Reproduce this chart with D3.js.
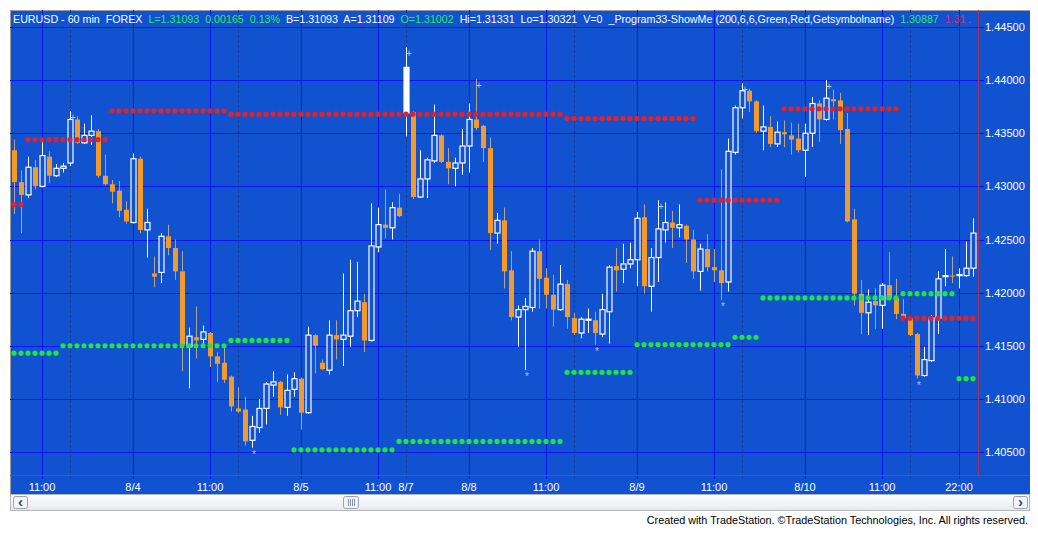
<!DOCTYPE html>
<html>
<head>
<meta charset="utf-8">
<script src="https://cdn.jsdelivr.net/npm/d3@7/dist/d3.min.js"></script>
<style>
body { margin: 0; background: #fff; }
svg { display: block; font-family: "Liberation Sans", Arial, sans-serif; }
</style>
</head>
<body>
<div id="chart"></div>
<script>
// hourly EURUSD bars
var opens = [1.4334,1.4304,1.4292,1.4318,1.4300,1.4328,1.4310,1.4317,1.4322,1.4363,
  1.4341,1.4348,1.4352,1.4310,1.4302,1.4296,1.4278,1.4266,1.4326,1.4259,
  1.4218,1.4219,1.4253,1.4242,1.4220,1.4149,1.4158,1.4156,1.4162,1.4140,
  1.4134,1.4121,1.4091,1.4090,1.4061,1.4073,1.4091,1.4113,1.4116,1.4092,
  1.4109,1.4119,1.4087,1.4160,1.4134,1.4127,1.4160,1.4156,1.4159,1.4183,
  1.4191,1.4155,1.4243,1.4264,1.4261,1.4280,1.4369,1.4370,1.4290,1.4307,
  1.4324,1.4348,1.4323,1.4317,1.4322,1.4338,1.4363,1.4357,1.4336,1.4256,
  1.4268,1.4221,1.4177,1.4184,1.4186,1.4239,1.4214,1.4198,1.4184,1.4208,
  1.4176,1.4162,1.4174,1.4174,1.4161,1.4182,1.4225,1.4222,1.4227,1.4231,
  1.4271,1.4206,1.4233,1.4259,1.4266,1.4261,1.4263,1.4250,1.4220,1.4241,
  1.4224,1.4221,1.4210,1.4332,1.4374,1.4390,1.4380,1.4352,1.4356,1.4340,
  1.4351,1.4348,1.4345,1.4334,1.4350,1.4378,1.4363,1.4382,1.4381,1.4354,
  1.4269,1.4199,1.4181,1.4192,1.4188,1.4207,1.4195,1.4180,1.4176,1.4161,
  1.4122,1.4136,1.4176,1.4215,1.4216,1.4216,1.4216,1.4223];
var highs = [1.4344,1.4315,1.4328,1.4325,1.4344,1.4333,1.4321,1.4322,1.4371,1.4366,
  1.4359,1.4367,1.4354,1.4330,1.4306,1.4305,1.4286,1.4331,1.4328,1.4279,
  1.4234,1.4256,1.4264,1.4250,1.4239,1.4167,1.4187,1.4169,1.4163,1.4144,
  1.4149,1.4122,1.4111,1.4102,1.4084,1.4100,1.4116,1.4126,1.4117,1.4123,
  1.4125,1.4120,1.4168,1.4161,1.4137,1.4174,1.4174,1.4218,1.4231,1.4229,
  1.4199,1.4284,1.4280,1.4297,1.4285,1.4293,1.4431,1.4371,1.4334,1.4327,
  1.4377,1.4349,1.4336,1.4327,1.4354,1.4378,1.4401,1.4358,1.4346,1.4275,
  1.4280,1.4239,1.4188,1.4195,1.4242,1.4250,1.4223,1.4217,1.4226,1.4212,
  1.4181,1.4177,1.4185,1.4182,1.4199,1.4226,1.4242,1.4246,1.4247,1.4276,
  1.4283,1.4242,1.4287,1.4285,1.4277,1.4283,1.4264,1.4259,1.4246,1.4255,
  1.4241,1.4316,1.4345,1.4376,1.4397,1.4392,1.4381,1.4376,1.4366,1.4361,
  1.4362,1.4360,1.4359,1.4359,1.4384,1.4381,1.4400,1.4391,1.4388,1.4369,
  1.4279,1.4212,1.4203,1.4204,1.4209,1.4238,1.4213,1.4194,1.4177,1.4162,
  1.4149,1.4179,1.4220,1.4241,1.4234,1.4223,1.4248,1.4270];
var lows = [1.4274,1.4256,1.4289,1.4297,1.4299,1.4303,1.4309,1.4313,1.4319,1.4340,
  1.4340,1.4339,1.4308,1.4301,1.4284,1.4271,1.4265,1.4265,1.4256,1.4233,
  1.4205,1.4209,1.4235,1.4212,1.4126,1.4110,1.4138,1.4148,1.4130,1.4116,
  1.4115,1.4088,1.4087,1.4056,1.4054,1.4068,1.4076,1.4102,1.4085,1.4084,
  1.4102,1.4071,1.4086,1.4124,1.4127,1.4123,1.4137,1.4131,1.4149,1.4177,
  1.4144,1.4154,1.4238,1.4251,1.4250,1.4271,1.4347,1.4288,1.4289,1.4289,
  1.4322,1.4322,1.4302,1.4300,1.4311,1.4313,1.4353,1.4323,1.4240,1.4246,
  1.4204,1.4174,1.4149,1.4127,1.4182,1.4185,1.4185,1.4168,1.4183,1.4166,
  1.4160,1.4157,1.4162,1.4151,1.4158,1.4152,1.4201,1.4209,1.4223,1.4206,
  1.4199,1.4182,1.4210,1.4247,1.4242,1.4252,1.4228,1.4213,1.4202,1.4220,
  1.4210,1.4193,1.4201,1.4330,1.4364,1.4370,1.4350,1.4334,1.4337,1.4337,
  1.4337,1.4330,1.4332,1.4309,1.4337,1.4342,1.4362,1.4363,1.4340,1.4266,
  1.4188,1.4161,1.4160,1.4166,1.4166,1.4193,1.4175,1.4175,1.4159,1.4119,
  1.4121,1.4135,1.4161,1.4206,1.4209,1.4204,1.4215,1.4215];
var closes = [1.4304,1.4292,1.4318,1.4300,1.4329,1.4310,1.4317,1.4319,1.4363,1.4341,
  1.4348,1.4352,1.4310,1.4302,1.4295,1.4277,1.4267,1.4326,1.4259,1.4266,
  1.4215,1.4253,1.4242,1.4220,1.4151,1.4159,1.4155,1.4163,1.4140,1.4133,
  1.4118,1.4093,1.4088,1.4060,1.4074,1.4091,1.4114,1.4116,1.4092,1.4108,
  1.4119,1.4087,1.4160,1.4150,1.4128,1.4160,1.4156,1.4160,1.4183,1.4192,
  1.4155,1.4244,1.4264,1.4261,1.4280,1.4272,1.4412,1.4290,1.4307,1.4325,
  1.4348,1.4323,1.4317,1.4322,1.4338,1.4363,1.4355,1.4336,1.4256,1.4268,
  1.4220,1.4177,1.4184,1.4187,1.4239,1.4213,1.4198,1.4184,1.4208,1.4177,
  1.4162,1.4175,1.4175,1.4162,1.4184,1.4224,1.4221,1.4227,1.4231,1.4270,
  1.4206,1.4233,1.4260,1.4266,1.4261,1.4264,1.4250,1.4220,1.4241,1.4224,
  1.4221,1.4209,1.4333,1.4374,1.4390,1.4380,1.4352,1.4356,1.4340,1.4351,
  1.4349,1.4344,1.4334,1.4350,1.4378,1.4363,1.4383,1.4380,1.4353,1.4267,
  1.4199,1.4181,1.4191,1.4188,1.4207,1.4195,1.4180,1.4176,1.4160,1.4122,
  1.4137,1.4176,1.4213,1.4216,1.4215,1.4217,1.4223,1.4256];

// indicator levels: [first bar, last bar, price]
var resistance = [[0, 1, 1.4283], [2, 13, 1.4344], [14, 30, 1.4371], [31, 78, 1.4368],
  [79, 97, 1.4364], [98, 109, 1.4287], [110, 126, 1.4373], [127, 137, 1.4176]];
var support = [[0, 6, 1.4143], [7, 30, 1.4150], [31, 39, 1.4155], [40, 54, 1.4052],
  [55, 78, 1.4060], [79, 88, 1.4125], [89, 102, 1.4151], [103, 106, 1.4158],
  [107, 126, 1.4195], [127, 134, 1.4199], [135, 137, 1.4119]];
var swingHighs = [8, 56, 66, 92, 104, 116];
var swingLows = [34, 73, 83, 101, 129];
var solidBars = [56];

var xTickBars = [4, 17, 28, 41, 52, 56, 65, 76, 89, 100, 113, 124, 135];
var xTickLabels = ["11:00", "8/4", "11:00", "8/5", "11:00", "8/7", "8/8", "11:00", "8/9", "11:00", "8/10", "11:00", "22:00"];
var sessionBars = [8, 32, 56, 80, 104, 128];
var yTicks = [1.405, 1.41, 1.415, 1.42, 1.425, 1.43, 1.435, 1.44, 1.445];

var headerParts = [
  ["EURUSD - 60 min  FOREX  ", "#ffffff"], ["L=1.31093  0.00165  0.13%  ", "#2ee860"],
  ["B=1.31093  A=1.31109  ", "#ffffff"], ["O=1.31002  ", "#2ee860"],
  ["Hi=1.31331  Lo=1.30321  V=0  _Program33-ShowMe (200,6,6,Green,Red,Getsymbolname)  ", "#ffffff"],
  ["1.30887  ", "#2ee860"], ["1.31", "#d8306a"], [" ...", "#8a7fb0"]
];

var width = 1038, height = 536;
var plotL = 10, plotT = 10, plotR = 978, plotB = 475, frameR = 1030, frameB = 494;
var bg = "#1052cf", gridColor = "#0a14f0", borderRed = "#a8335e";

var bars = opens.map(function(o, i) {
  return { i: i, open: o, high: highs[i], low: lows[i], close: closes[i] };
});

var x = d3.scaleLinear().domain([0, 137]).range([14, 973]);
var y = d3.scaleLinear().domain([1.405, 1.445]).range([452, 27]);

var svg = d3.select("#chart").append("svg")
  .attr("width", width).attr("height", height);

var defs = svg.append("defs");
defs.append("clipPath").attr("id", "plotclip")
  .append("rect").attr("x", plotL).attr("y", plotT)
  .attr("width", plotR - plotL).attr("height", plotB - plotT);
defs.append("clipPath").attr("id", "headclip")
  .append("rect").attr("x", plotL).attr("y", plotT)
  .attr("width", plotR - plotL - 6).attr("height", 20);

// frame background
svg.append("rect").attr("x", plotL).attr("y", plotT)
  .attr("width", frameR - plotL).attr("height", frameB - plotT)
  .attr("fill", bg);
svg.append("line").attr("x1", plotL).attr("x2", frameR).attr("y1", plotT + 0.5).attr("y2", plotT + 0.5)
  .attr("stroke", "#9a9a9a");
svg.append("line").attr("x1", plotL + 0.5).attr("x2", plotL + 0.5).attr("y1", plotT).attr("y2", frameB)
  .attr("stroke", "#9a9a9a");

// horizontal grid + price axis
var yAxis = svg.append("g");
yAxis.selectAll("line").data(yTicks).enter().append("line")
  .attr("x1", plotL).attr("x2", plotR + 6)
  .attr("y1", function(d) { return Math.round(y(d)) + 0.5; })
  .attr("y2", function(d) { return Math.round(y(d)) + 0.5; })
  .attr("stroke", gridColor).attr("stroke-width", 1);
yAxis.selectAll("text").data(yTicks).enter().append("text")
  .attr("x", plotR + 7).attr("y", function(d) { return y(d) + 4; })
  .attr("fill", "#fff").attr("font-size", 11)
  .text(d3.format(".5f"));

// vertical grid
var vgrid = svg.append("g");
vgrid.selectAll("line.solid").data(xTickBars.filter(function(b) { return sessionBars.indexOf(b) < 0; }))
  .enter().append("line").attr("class", "solid")
  .attr("x1", function(d) { return Math.round(x(d)) + 0.5; })
  .attr("x2", function(d) { return Math.round(x(d)) + 0.5; })
  .attr("y1", plotT).attr("y2", plotB + 4)
  .attr("stroke", gridColor);
vgrid.selectAll("line.session").data(sessionBars).enter().append("line").attr("class", "session")
  .attr("x1", function(d) { return Math.round(x(d)) + 0.5; })
  .attr("x2", function(d) { return Math.round(x(d)) + 0.5; })
  .attr("y1", plotT).attr("y2", plotB + 4)
  .attr("stroke", "#1b3a8c").attr("stroke-dasharray", "3,2");

// red plot border
svg.append("line").attr("x1", plotR + 0.5).attr("x2", plotR + 0.5).attr("y1", plotT).attr("y2", plotB)
  .attr("stroke", borderRed);
svg.append("line").attr("x1", plotL).attr("x2", frameR).attr("y1", plotB + 0.5).attr("y2", plotB + 0.5)
  .attr("stroke", borderRed);

// time axis labels
svg.append("g").selectAll("text").data(xTickBars).enter().append("text")
  .attr("x", function(d) { return x(d); }).attr("y", 491)
  .attr("text-anchor", "middle").attr("fill", "#fff").attr("font-size", 11)
  .text(function(d, i) { return xTickLabels[i]; });

// candles
var plotG = svg.append("g").attr("clip-path", "url(#plotclip)");
var candle = plotG.selectAll("g.bar").data(bars).enter().append("g").attr("class", "bar");

candle.append("line")
  .attr("x1", function(d) { return Math.round(x(d.i)) + 0.5; })
  .attr("x2", function(d) { return Math.round(x(d.i)) + 0.5; })
  .attr("y1", function(d) { return y(d.high); })
  .attr("y2", function(d) { return y(d.low); })
  .attr("stroke", function(d) { return d.close >= d.open ? "#ffffff" : "#b8a48a"; })
  .attr("stroke-width", 1);

candle.append("rect")
  .attr("x", function(d) { return Math.round(x(d.i)) - 2; })
  .attr("width", 5)
  .attr("y", function(d) { return y(Math.max(d.open, d.close)); })
  .attr("height", function(d) { return Math.max(1, Math.abs(y(d.open) - y(d.close))); })
  .attr("fill", function(d) {
    if (d.close < d.open) return "#f39a2c";
    return solidBars.indexOf(d.i) >= 0 ? "#ffffff" : bg;
  })
  .attr("stroke", function(d) { return d.close >= d.open ? "#ffffff" : "none"; })
  .attr("stroke-width", 1.2);

// support / resistance dots, one per bar
function dotsFor(segs) {
  var out = [];
  segs.forEach(function(s) {
    for (var b = s[0]; b <= s[1]; b++) out.push({ i: b, level: s[2] });
  });
  return out;
}
plotG.selectAll("circle.res").data(dotsFor(resistance)).enter().append("circle")
  .attr("class", "res")
  .attr("cx", function(d) { return x(d.i); }).attr("cy", function(d) { return y(d.level); })
  .attr("r", 2.6).attr("fill", "#e1222a");
plotG.selectAll("circle.sup").data(dotsFor(support)).enter().append("circle")
  .attr("class", "sup")
  .attr("cx", function(d) { return x(d.i); }).attr("cy", function(d) { return y(d.level); })
  .attr("r", 2.6).attr("fill", "#1fe63f");

// swing markers
plotG.selectAll("text.hi").data(swingHighs).enter().append("text").attr("class", "hi")
  .attr("x", function(d) { return x(d) + 3; }).attr("y", function(d) { return y(highs[d]) + 10; })
  .attr("text-anchor", "middle").attr("font-size", 10).attr("fill", "#a9c8ff")
  .text("+");
plotG.selectAll("text.lo").data(swingLows).enter().append("text").attr("class", "lo")
  .attr("x", function(d) { return x(d) + 2; }).attr("y", function(d) { return y(lows[d]) + 10; })
  .attr("text-anchor", "middle").attr("font-size", 10).attr("fill", "#a9c8ff")
  .text("*");

// header line
var header = svg.append("text").attr("x", 13).attr("y", 23)
  .attr("font-size", 10.7).attr("clip-path", "url(#headclip)").style("white-space", "pre");
header.selectAll("tspan").data(headerParts).enter().append("tspan")
  .attr("fill", function(d) { return d[1]; })
  .text(function(d) { return d[0]; });

// scroll bar
var sb = svg.append("g");
var grad = defs.append("linearGradient").attr("id", "sbgrad")
  .attr("x1", 0).attr("x2", 0).attr("y1", 0).attr("y2", 1);
grad.append("stop").attr("offset", "0%").attr("stop-color", "#ffffff");
grad.append("stop").attr("offset", "100%").attr("stop-color", "#e6e9ee");
sb.append("rect").attr("x", plotL + 0.5).attr("y", 494.5).attr("width", frameR - plotL - 1).attr("height", 16)
  .attr("fill", "url(#sbgrad)").attr("stroke", "#b5b5b5");
[[13, "‹"], [1013, "›"]].forEach(function(b) {
  sb.append("rect").attr("x", b[0] + 0.5).attr("y", 496.5).attr("width", 14).attr("height", 12)
    .attr("rx", 2).attr("fill", "#f2f5fa").attr("stroke", "#9aa3b5");
  sb.append("text").attr("x", b[0] + 7.5).attr("y", 507).attr("text-anchor", "middle")
    .attr("font-size", 15).attr("font-weight", "bold").attr("fill", "#3a4a66").text(b[1]);
});
sb.append("rect").attr("x", 343.5).attr("y", 496.5).attr("width", 15).attr("height", 12)
  .attr("rx", 2).attr("fill", "#eef1f6").attr("stroke", "#9aa3b5");
[348, 350, 352, 354].forEach(function(gx) {
  sb.append("line").attr("x1", gx + 0.5).attr("x2", gx + 0.5).attr("y1", 499).attr("y2", 506)
    .attr("stroke", "#8a94a8");
});

// footer
svg.append("text").attr("x", 1028).attr("y", 524).attr("text-anchor", "end")
  .attr("font-size", 10.8).attr("fill", "#000")
  .text("Created with TradeStation. \u00A9TradeStation Technologies, Inc. All rights reserved.");
</script>
</body>
</html>
